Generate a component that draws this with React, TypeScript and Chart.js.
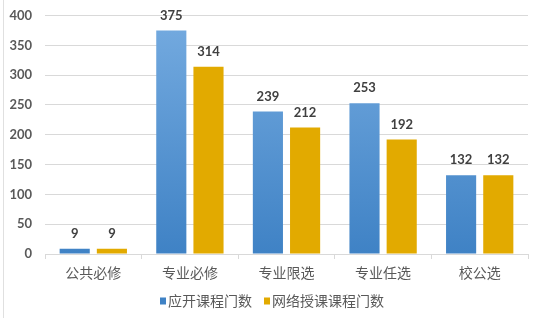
import React, { useEffect, useRef } from "react";
import { Chart, registerables } from "chart.js";

Chart.register(...registerables);

const categories = ["公共必修", "专业必修", "专业限选", "专业任选", "校公选"];
const seriesNames = ["应开课程门数", "网络授课课程门数"];
const offeredCourses = [9, 375, 239, 253, 132];
const onlineCourses = [9, 314, 212, 192, 132];
const yTicks = [0, 50, 100, 150, 200, 250, 300, 350, 400];

const BLUE_TOP = "#75abe0";
const BLUE_BOTTOM = "#3f82c5";
const GOLD = "#e2aa00";
const TEXT = "#595959";
const CJK = "'Noto Sans CJK SC', sans-serif";
const NUM = "Lato, 'Open Sans', sans-serif";

const labelsPlugin = {
  id: "valueLabels",
  afterDatasetsDraw(chart: any) {
    const ctx = chart.ctx;
    ctx.save();
    ctx.font = `bold 13px ${NUM}`;
    ctx.fillStyle = "#404040";
    ctx.textAlign = "center";
    ctx.textBaseline = "middle";
    chart.data.datasets.forEach((ds: any, di: number) => {
      const meta = chart.getDatasetMeta(di);
      meta.data.forEach((bar: any, i: number) => {
        ctx.fillText(String(ds.data[i]), bar.x, bar.y - 15);
      });
    });
    ctx.restore();
  },
};

const legendPlugin = {
  id: "customLegend",
  afterDraw(chart: any) {
    const ctx = chart.ctx;
    ctx.save();
    ctx.font = `14px ${CJK}`;
    ctx.textBaseline = "middle";
    const y = 301;
    const items = [
      { x: 160, color: BLUE_BOTTOM, text: seriesNames[0] },
      { x: 264, color: GOLD, text: seriesNames[1] },
    ];
    items.forEach((it) => {
      ctx.fillStyle = it.color;
      ctx.fillRect(it.x, y - 3.5, 6, 7);
      ctx.fillStyle = TEXT;
      ctx.fillText(it.text, it.x + 8, y);
    });
    ctx.strokeStyle = "#e0e0e0";
    ctx.lineWidth = 1;
    ctx.beginPath();
    ctx.moveTo(3.5, 0);
    ctx.lineTo(3.5, 318);
    ctx.stroke();
    ctx.restore();
  },
};

export default function App() {
  const ref = useRef<HTMLCanvasElement>(null);
  useEffect(() => {
    document.body.style.margin = "0";
    const canvas = ref.current!;
    const blueGrad = (context: any) => {
      const { chart } = context;
      const area = chart.chartArea;
      if (!area) return BLUE_BOTTOM;
      const g = chart.ctx.createLinearGradient(0, area.top, 0, area.bottom);
      g.addColorStop(0, BLUE_TOP);
      g.addColorStop(1, BLUE_BOTTOM);
      return g;
    };
    const chart = new Chart(canvas, {
      type: "bar",
      data: {
        labels: categories,
        datasets: [
          {
            label: seriesNames[0],
            data: offeredCourses,
            backgroundColor: blueGrad,
            categoryPercentage: 0.77,
            barPercentage: 0.81,
          },
          {
            label: seriesNames[1],
            data: onlineCourses,
            backgroundColor: GOLD,
            categoryPercentage: 0.77,
            barPercentage: 0.81,
          },
        ],
      },
      options: {
        responsive: false,
        animation: false,
        devicePixelRatio: 1,
        layout: { padding: { top: 15.5, right: 20, left: 0, bottom: 38 } },
        plugins: {
          legend: { display: false },
          tooltip: { enabled: false },
        },
        scales: {
          x: {
            grid: {
              display: true,
              drawOnChartArea: false,
              drawTicks: true,
              tickLength: 5,
              color: "#d9d9d9",
              offset: true,
            },
            border: { display: true, color: "#d9d9d9" },
            ticks: {
              color: TEXT,
              font: { family: CJK, size: 14 },
              padding: 5,
            },
            afterFit(scale: any) {
              scale.height = 30;
              scale.paddingLeft = 0;
              scale.paddingRight = 0;
            },
          },
          y: {
            min: 0,
            max: 400,
            afterBuildTicks(scale: any) {
              scale.ticks = yTicks.map((v) => ({ value: v }));
            },
            grid: { color: "#d9d9d9", drawTicks: false },
            border: { display: false },
            ticks: {
              color: TEXT,
              font: { family: NUM, size: 13, weight: "bold" },
              padding: 13,
            },
            afterFit(scale: any) {
              scale.width = 45;
              scale.paddingTop = 0;
              scale.paddingBottom = 0;
            },
          },
        },
      },
      plugins: [labelsPlugin, legendPlugin],
    });
    return () => chart.destroy();
  }, []);
  return <canvas ref={ref} width={548} height={322} style={{ display: "block" }} />;
}
